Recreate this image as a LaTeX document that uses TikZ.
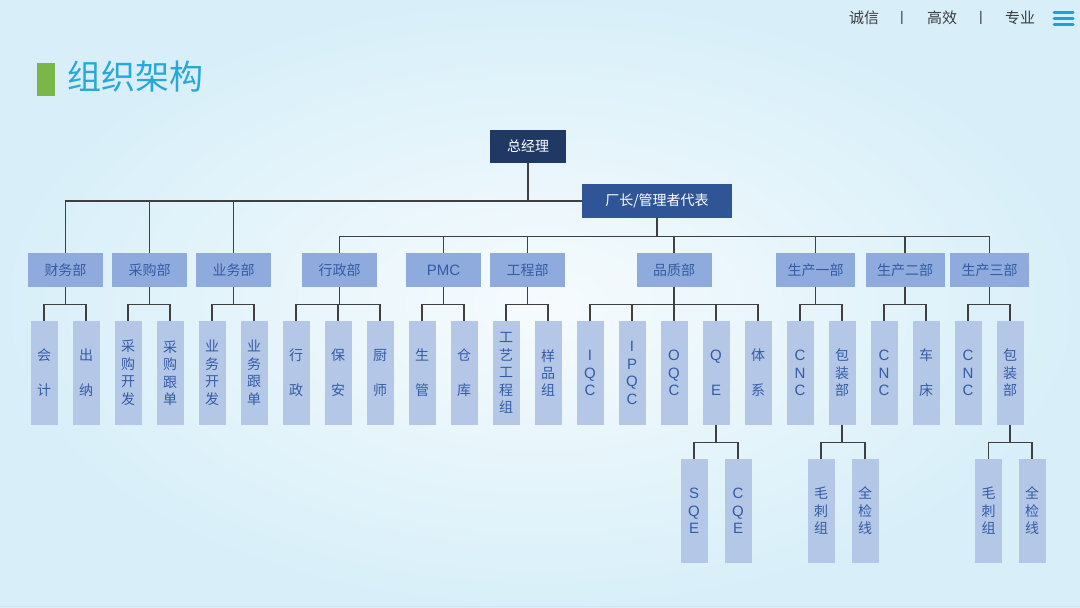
\documentclass[tikz,border=0pt]{standalone}
\usepackage{fontspec}
\setmainfont{Noto Sans CJK SC}
\newfontfamily\lat{Liberation Sans}
\usetikzlibrary{calc}
\definecolor{navy}{RGB}{31,56,100}
\definecolor{midblue}{RGB}{47,85,151}
\definecolor{deptfill}{RGB}{143,170,220}
\definecolor{leaffill}{RGB}{180,199,231}
\definecolor{txtblue}{RGB}{52,92,165}
\definecolor{linegray}{RGB}{64,64,64}
\definecolor{titleblue}{RGB}{41,168,216}
\definecolor{barGreen}{RGB}{122,182,72}
\definecolor{bgin}{RGB}{246,251,253}
\definecolor{bgout}{RGB}{216,239,249}
\definecolor{hdrtext}{RGB}{60,60,60}
\definecolor{iconblue}{RGB}{30,160,220}
\newcommand\branchto[2]{%
  \draw[conn] (#1.south) -- ++(0,17) coordinate (#1b);
  \foreach \x in {#2} \draw[conn] (#1b) -| (\x.north);
}
\begin{document}
\begin{tikzpicture}[x=1pt,y=-1pt,
  topbox/.style={text=white, minimum height=33pt, inner sep=0pt, font=\fontsize{14}{16}\selectfont},
  dept/.style={fill=deptfill, text=txtblue, minimum width=75pt, minimum height=34pt, inner sep=0pt, font=\fontsize{14}{16}\selectfont},
  deptL/.style={dept, font=\lat\fontsize{15}{17}\selectfont},
  leaf/.style={fill=leaffill, text=txtblue, minimum width=27pt, minimum height=104pt, inner sep=0pt, align=center, font=\fontsize{14}{17.5}\selectfont},
  leafL/.style={leaf, font=\lat\fontsize{15}{17.5}\selectfont},
  conn/.style={draw=linegray, line width=1.3pt},
  hdr/.style={text=hdrtext, inner sep=0pt, font=\fontsize{15}{17}\selectfont}
]
\useasboundingbox (0,0) rectangle (1080,608);
\shade[inner color=bgin, outer color=bgout] (0,0) rectangle (1080,608);
\draw[color=bgout!85!blue!60!white, line width=1pt] (0,606.5) -- (1080,606.5);

% header
\node[hdr] (h1) at (864,18) {诚信};
\node[hdr, font=\lat\fontsize{14}{16}\selectfont] (s1) at (902,17.5) {|};
\node[hdr] (h2) at (942,18) {高效};
\node[hdr, font=\lat\fontsize{14}{16}\selectfont] (s2) at (981,17.5) {|};
\node[hdr] (h3) at (1020,18) {专业};
\foreach \yy in {12.5,18.5,24.5}
  \draw[iconblue, line width=3pt, line cap=round] (1054,\yy) -- (1073,\yy);

% title
\fill[barGreen] (37,63) rectangle (55,96);
\node[text=titleblue, inner sep=0pt, anchor=west, font=\fontsize{34}{38}\selectfont] (title) at (67,77) {组织架构};

% top boxes
\node[topbox, fill=navy, minimum width=76pt] (gm) at (528,146.5) {总经理};
\node[topbox, fill=midblue, minimum width=150pt, minimum height=34pt] (cz) at (657,201) {厂长/管理者代表};

% departments
\node[dept] (cw) at (65.5,270) {财务部};
\node[dept] (cg) at (149.5,270) {采购部};
\node[dept] (yw) at (233.5,270) {业务部};
\node[dept] (xz) at (339.5,270) {行政部};
\node[deptL] (pmc) at (443.5,270) {PMC};
\node[dept] (gc) at (527.5,270) {工程部};
\node[dept] (pz) at (674,270) {品质部};
\node[dept, minimum width=79pt] (sc1) at (815.5,270) {生产一部};
\node[dept, minimum width=79pt] (sc2) at (905,270) {生产二部};
\node[dept, minimum width=79pt] (sc3) at (989.5,270) {生产三部};

% leaves
\node[leaf] (kj) at (44,373) {会\\[17.5pt]计};
\node[leaf] (cn) at (86,373) {出\\[17.5pt]纳};
\node[leaf] (cgkf) at (128,373) {采\\购\\开\\发};
\node[leaf] (cggd) at (170,373) {采\\购\\跟\\单};
\node[leaf] (ywkf) at (212,373) {业\\务\\开\\发};
\node[leaf] (ywgd) at (254,373) {业\\务\\跟\\单};
\node[leaf] (xzl) at (296,373) {行\\[17.5pt]政};
\node[leaf] (ba) at (338,373) {保\\[17.5pt]安};
\node[leaf] (cs) at (380,373) {厨\\[17.5pt]师};
\node[leaf] (sg) at (422,373) {生\\[17.5pt]管};
\node[leaf] (ck) at (464,373) {仓\\[17.5pt]库};
\node[leaf] (gygc) at (506,373) {工\\艺\\工\\程\\组};
\node[leaf] (yp) at (548,373) {样\\品\\组};
\node[leafL] (iqc) at (590,373) {I\\Q\\C};
\node[leafL] (ipqc) at (632,373) {I\\P\\Q\\C};
\node[leafL] (oqc) at (674,373) {O\\Q\\C};
\node[leafL] (qe) at (716,373) {Q\\[17.5pt]E};
\node[leaf] (tx) at (758,373) {体\\[17.5pt]系};
\node[leafL] (cnc1) at (800,373) {C\\N\\C};
\node[leaf] (bz1) at (842,373) {包\\装\\部};
\node[leafL] (cnc2) at (884,373) {C\\N\\C};
\node[leaf] (cc) at (926,373) {车\\[17.5pt]床};
\node[leafL] (cnc3) at (968,373) {C\\N\\C};
\node[leaf] (bz3) at (1010,373) {包\\装\\部};

% sub-leaves
\node[leafL] (sqe) at (694,511) {S\\Q\\E};
\node[leafL] (cqe) at (738,511) {C\\Q\\E};
\node[leaf] (mc1) at (821,511) {毛\\刺\\组};
\node[leaf] (qj1) at (865,511) {全\\检\\线};
\node[leaf] (mc3) at (988.5,511) {毛\\刺\\组};
\node[leaf] (qj3) at (1032,511) {全\\检\\线};

% connectors
\draw[conn] (gm.south) |- (cz.west);
\coordinate (gmb) at (gm.south |- cz.west);
\foreach \x in {cw,cg,yw} \draw[conn] (gmb) -| (\x.north);
\draw[conn] (cz.south) -- ++(0,18) coordinate (czb);
\foreach \x in {xz,pmc,gc,pz,sc1,sc2,sc3} \draw[conn] (czb) -| (\x.north);

\branchto{cw}{kj,cn}
\branchto{cg}{cgkf,cggd}
\branchto{yw}{ywkf,ywgd}
\branchto{xz}{xzl,ba,cs}
\branchto{pmc}{sg,ck}
\branchto{gc}{gygc,yp}
\branchto{pz}{iqc,ipqc,oqc,qe,tx}
\branchto{sc1}{cnc1,bz1}
\branchto{sc2}{cnc2,cc}
\branchto{sc3}{cnc3,bz3}
\branchto{qe}{sqe,cqe}
\branchto{bz1}{mc1,qj1}
\branchto{bz3}{mc3,qj3}
\end{tikzpicture}
\end{document}
